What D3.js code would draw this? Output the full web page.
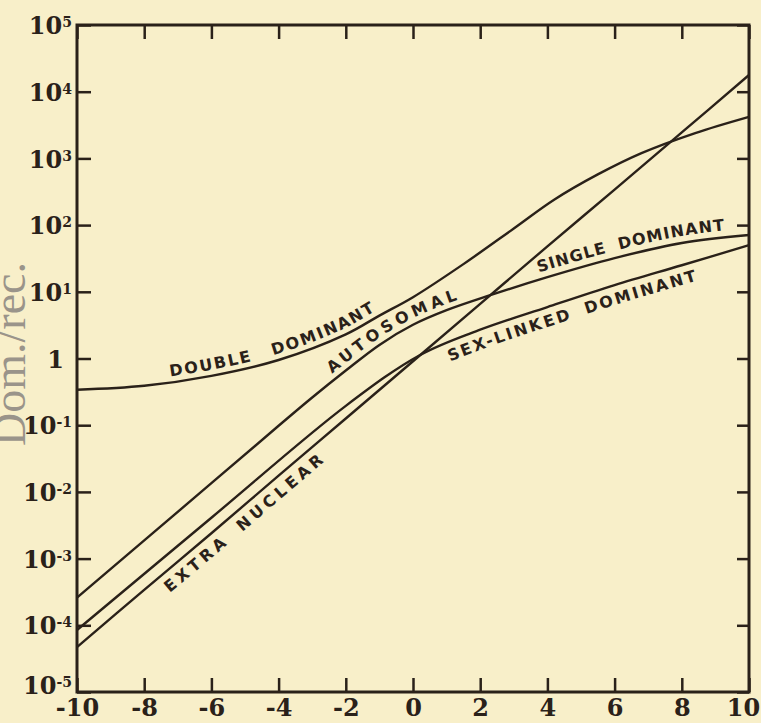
<!DOCTYPE html>
<html>
<head>
<meta charset="utf-8">
<script src="https://cdn.jsdelivr.net/npm/d3@7"></script>
<style>
  body { margin: 0; background: #f8efc9; }
  svg { display: block; }
</style>
</head>
<body>
<svg></svg>
<script>
// values: [x, dom./rec.]
const doubleDominant = [
  [-10, 0.34], [-8, 0.39], [-6, 0.55], [-4, 0.95], [-2, 2.3], [-1, 4.4],
  [0, 8.3], [1.5, 26], [3, 89], [4.2, 240], [5.5, 575], [6.8, 1200],
  [8.4, 2400], [10, 4200]
];
const singleDominant = [
  [-10, 2.6e-4], [-6, 0.0135], [-4, 0.098], [-3, 0.26], [-2, 0.66],
  [-1, 1.6], [0, 3.2], [1, 5.3], [2.3, 8.9], [4, 16.6], [6, 32], [8, 54], [10, 71]
];
const sexLinked = [
  [-10, 8.5e-5], [-6, 4.1e-3], [-2, 0.195], [0.2, 1.12], [2, 2.7],
  [4, 5.9], [6, 12.6], [8, 25], [10, 50]
];
const extraNuclear = [
  [-10, 4.7e-5], [-8, 3.4e-4], [-6, 2.4e-3], [-4, 0.0175], [-2, 0.126],
  [0, 0.91], [2, 6.6], [4, 48], [6, 340], [8, 2450], [10, 17800]
];

const xTicks = [-10, -8, -6, -4, -2, 0, 2, 4, 6, 8, 10];
const yExponents = [5, 4, 3, 2, 1, 0, -1, -2, -3, -4, -5];
const yTitle = 'Dom./rec.';

// labels written along the curves
const labels = [
  { data: doubleDominant, text: 'DOUBLE', at: -7.2, dy: -6, ls: 2 },
  { data: doubleDominant, text: 'DOMINANT', at: -4.1, dy: -6, ls: 2 },
  { data: singleDominant, text: 'AUTOSOMAL', at: -2.3, dy: -6, ls: 4 },
  { data: singleDominant, text: 'SINGLE DOMINANT', at: 3.8, dy: -7, ls: 1 },
  { data: sexLinked, text: 'SEX-LINKED DOMINANT', at: 0.9, dy: 19, ls: 2.5 },
  { data: extraNuclear, text: 'EXTRA NUCLEAR', at: -7.6, dy: 19, ls: 4 }
];

const width = 761;
const height = 723;
const plotLeft = 77, plotRight = 749, plotTop = 25, plotBottom = 692;
const ink = '#2a2119';
const numFont = 'bold 24px "DejaVu Serif", serif';

const svg = d3.select('svg')
  .attr('width', width)
  .attr('height', height);

const x = d3.scaleLinear().domain([-10, 10]).range([plotLeft, plotRight]);
const y = d3.scaleLog().domain([1e-5, 1e5]).range([plotBottom, plotTop]);
const yTickValues = yExponents.map(function (e) { return Math.pow(10, e); });

// axes (ticks point inward)
const axisStyle = function (g) {
  g.select('.domain').remove();
  g.selectAll('.tick line').attr('stroke', ink).attr('stroke-width', 2.5);
};

svg.append('g')
  .attr('transform', 'translate(0,' + plotBottom + ')')
  .call(d3.axisBottom(x).tickValues(xTicks).tickSize(-14).tickPadding(7)
    .tickFormat(function (d) { return String(d); }))
  .call(axisStyle)
  .selectAll('text')
  .attr('fill', ink)
  .attr('dx', function (d) { return d === 10 ? -6 : 0; })
  .style('font', numFont);

svg.append('g')
  .attr('transform', 'translate(0,' + plotTop + ')')
  .call(d3.axisTop(x).tickValues(xTicks).tickSize(-14).tickFormat(''))
  .call(axisStyle);

svg.append('g')
  .attr('transform', 'translate(' + plotRight + ',0)')
  .call(d3.axisRight(y).tickValues(yTickValues).tickSize(-12).tickFormat(''))
  .call(axisStyle);

const yAxis = svg.append('g')
  .attr('transform', 'translate(' + plotLeft + ',0)')
  .call(d3.axisLeft(y).tickValues(yTickValues).tickSize(-14).tickPadding(5).tickFormat(''))
  .call(axisStyle);

yAxis.selectAll('.tick text').each(function (d) {
  const e = Math.round(Math.log10(d));
  const t = d3.select(this)
    .attr('fill', ink)
    .attr('dy', '0.36em')
    .style('font', numFont);
  if (e === -5) t.attr('y', -7);
  if (e === 0) {
    t.attr('dx', -8).text('1');
    return;
  }
  t.append('tspan').text('10');
  t.append('tspan')
    .attr('dy', '-0.5em')
    .style('font-size', '14px')
    .text(String(e));
});

// frame
svg.append('rect')
  .attr('x', plotLeft).attr('y', plotTop)
  .attr('width', plotRight - plotLeft).attr('height', plotBottom - plotTop)
  .attr('fill', 'none')
  .attr('stroke', ink)
  .attr('stroke-width', 3);

// curves
const line = d3.line()
  .x(function (d) { return x(d[0]); })
  .y(function (d) { return y(d[1]); })
  .curve(d3.curveCatmullRom.alpha(0.5));

const series = [doubleDominant, singleDominant, sexLinked, extraNuclear];
const paths = svg.append('g').selectAll('path')
  .data(series)
  .enter()
  .append('path')
  .attr('id', function (d, i) { return 'curve' + i; })
  .attr('d', line)
  .attr('fill', 'none')
  .attr('stroke', ink)
  .attr('stroke-width', 2.4);

function lengthAtX(node, px) {
  let lo = 0, hi = node.getTotalLength();
  for (let k = 0; k < 40; k++) {
    const mid = (lo + hi) / 2;
    if (node.getPointAtLength(mid).x < px) lo = mid; else hi = mid;
  }
  return lo;
}

labels.forEach(function (lab) {
  const idx = series.indexOf(lab.data);
  const node = paths.nodes()[idx];
  svg.append('text')
    .attr('dy', lab.dy)
    .attr('fill', ink)
    .style('font', 'bold 16px "DejaVu Sans", sans-serif')
    .style('letter-spacing', lab.ls + 'px')
    .style('word-spacing', '6px')
    .append('textPath')
    .attr('href', '#curve' + idx)
    .attr('startOffset', lengthAtX(node, x(lab.at)))
    .text(lab.text);
});

// y title, partly cut off at the left edge
svg.append('text')
  .attr('transform', 'translate(25,354) rotate(-90)')
  .attr('text-anchor', 'middle')
  .attr('fill', '#9a948a')
  .style('font', '46px "Liberation Serif", serif')
  .text(yTitle);
</script>
</body>
</html>
